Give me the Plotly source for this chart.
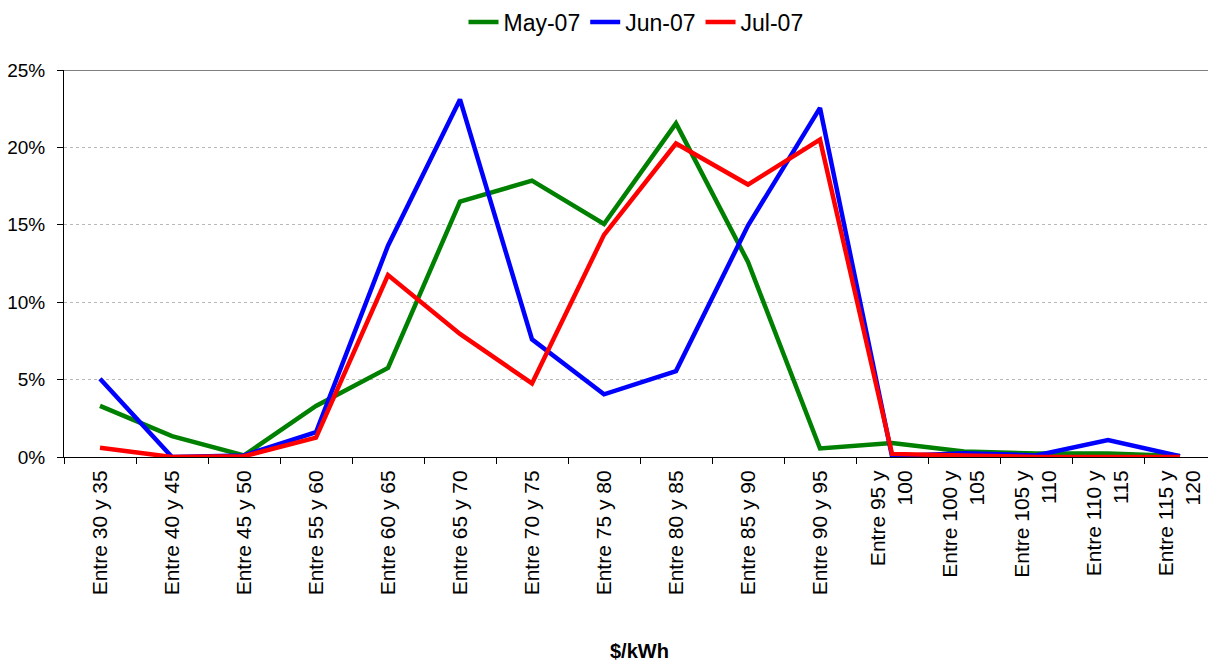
import plotly.graph_objects as go

# Price bands ($/kWh)
categories = [
    "Entre 30 y 35", "Entre 40 y 45", "Entre 45 y 50", "Entre 55 y 60",
    "Entre 60 y 65", "Entre 65 y 70", "Entre 70 y 75", "Entre 75 y 80",
    "Entre 80 y 85", "Entre 85 y 90", "Entre 90 y 95", "Entre 95 y<br>100",
    "Entre 100 y<br>105", "Entre 105 y<br>110", "Entre 110 y<br>115", "Entre 115 y<br>120",
]

# Share of hours per price band, in percent
may_07 = [3.3, 1.35, 0.1, 3.3, 5.75, 16.5, 17.85, 15.05, 21.55, 12.6, 0.55, 0.9, 0.35, 0.22, 0.22, 0.06]
jun_07 = [5.05, 0.0, 0.1, 1.6, 13.65, 23.1, 7.6, 4.05, 5.55, 14.95, 22.55, 0.05, 0.25, 0.1, 1.1, 0.05]
jul_07 = [0.6, 0.0, 0.05, 1.25, 11.75, 7.95, 4.75, 14.35, 20.25, 17.6, 20.5, 0.2, 0.1, 0.0, 0.0, 0.0]

series = [("May-07", may_07, "#008000"), ("Jun-07", jun_07, "#0000FF"), ("Jul-07", jul_07, "#FF0000")]

y_ticks = [0, 5, 10, 15, 20, 25]
y_tick_labels = ["0%", "5%", "10%", "15%", "20%", "25%"]

FONT = "Arial, Liberation Sans, sans-serif"

fig = go.Figure()
for name, values, color in series:
    fig.add_trace(go.Scatter(
        x=categories, y=values, name=name, mode="lines",
        line=dict(color=color, width=4.5), cliponaxis=False,
    ))

fig.update_layout(
    width=1208, height=661,
    margin=dict(l=64, r=0, t=70, b=204),
    paper_bgcolor="white", plot_bgcolor="white",
    font=dict(family=FONT, color="black"),
    showlegend=True,
    legend=dict(
        orientation="h", x=0.5, xanchor="center", y=1.124, yanchor="middle",
        font=dict(size=23, family=FONT), itemwidth=30, tracegroupgap=0,
    ),
    xaxis=dict(
        type="category", range=[-0.5, 15.5 - 8 / 72],
        showline=True, linecolor="black", linewidth=1,
        ticks="outside", ticklen=6, tickcolor="black", tickson="boundaries",
        tickangle=-90, tickfont=dict(size=21, family=FONT), ticklabelstandoff=4,
        showgrid=False, layer="below traces",
    ),
    yaxis=dict(
        range=[0, 25], tickmode="array", tickvals=y_ticks, ticktext=y_tick_labels,
        showline=True, linecolor="black", linewidth=1,
        ticks="outside", ticklen=6, tickcolor="black",
        tickfont=dict(size=19, family=FONT), ticklabelstandoff=8,
        showgrid=True, gridcolor="#b8b8b8", griddash="dot", gridwidth=1,
        zeroline=False, layer="below traces",
    ),
)

# Grey frame line along the top of the plot area
fig.add_shape(type="line", xref="paper", yref="y", x0=0, x1=1, y0=25, y1=25,
              line=dict(color="#808080", width=2), layer="below")

# Axis title
fig.add_annotation(
    text="<b>$/kWh</b>", xref="paper", yref="paper",
    x=(639 - 64) / 1144, y=-0.5, xanchor="center", yanchor="middle",
    showarrow=False, font=dict(size=20, family=FONT),
)

fig.write_html("out.html")
